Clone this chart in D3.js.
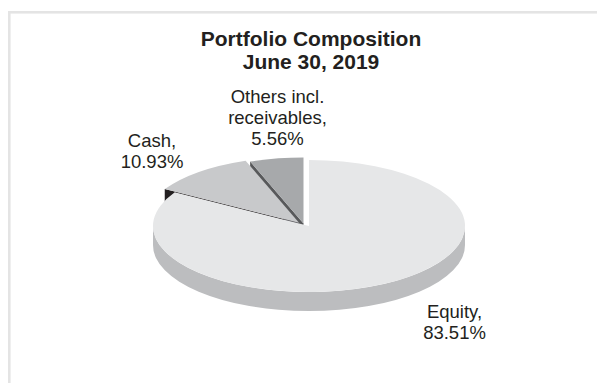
<!DOCTYPE html>
<html>
<head>
<meta charset="utf-8">
<script src="https://cdn.jsdelivr.net/npm/d3@7"></script>
<style>
  body { margin: 0; background: #ffffff; }
  svg { display: block; }
  text { font-family: "Liberation Sans", Arial, Helvetica, sans-serif; fill: #231f20; }
</style>
</head>
<body>
<svg id="chart" width="597" height="383"></svg>
<script>
// Portfolio composition data
const categories = ["Equity", "Cash", "Others incl. receivables"];
const shares = [83.51, 10.93, 5.56];
const nameLines = [["Equity,"], ["Cash,"], ["Others incl.", "receivables,"]];
const titleLines = ["Portfolio Composition", "June 30, 2019"];

// Styling per slice: top face, outer wall, radial cut face
const topColors  = ["#e6e7e8", "#c8c9cb", "#a7a9ab"];
const wallColors = ["#bcbdbf", "#b0b1b3", "#8e9093"];
const faceColors = ["#9a9b9d", "#231f20", "#58595b"];

// Geometry of the tilted pie
const rx = 156, ry = 66, depth = 19;
const base = [304, 224];
const explode = [[5, 2], [-5, -1.3], [-0.5, -0.5]];
const labelPos = [[454.5, 317.5], [152, 146.5], [277.5, 102.7]];
const lineGap = [21.5, 21.5, 21.3];

const svg = d3.select("#chart");

// Light frame along the top and left edges
svg.append("rect").attr("x", 8).attr("y", 11).attr("width", 589).attr("height", 2.6).attr("fill", "#e4e4e4");
svg.append("rect").attr("x", 8).attr("y", 11).attr("width", 2.6).attr("height", 372).attr("fill", "#e4e4e4");

// Title
const title = svg.append("text").attr("text-anchor", "middle")
  .style("font-weight", "bold").style("font-size", "21px");
titleLines.forEach((t, i) => {
  title.append("tspan").attr("x", 311).attr("y", 46 + i * 23.4).text(t);
});

const arcs = d3.pie().sort(null).value(d => d)(shares);
const fmt = d3.format(".2f");

function centerOf(i) { return [base[0] + explode[i][0], base[1] + explode[i][1]]; }
function pt(c, a, dy = 0) { return [c[0] + rx * Math.sin(a), c[1] - ry * Math.cos(a) + dy]; }

function topPath(c, a0, a1) {
  const p0 = pt(c, a0), p1 = pt(c, a1);
  const large = (a1 - a0) > Math.PI ? 1 : 0;
  return `M${c[0]},${c[1]}L${p0[0]},${p0[1]}A${rx},${ry} 0 ${large} 1 ${p1[0]},${p1[1]}Z`;
}

function wallPath(c, a0, a1) {
  const s = Math.max(a0, Math.PI / 2), e = Math.min(a1, 3 * Math.PI / 2);
  if (e <= s) return null;
  const p0 = pt(c, s), p1 = pt(c, e), q1 = pt(c, e, depth), q0 = pt(c, s, depth);
  return `M${p0[0]},${p0[1]}A${rx},${ry} 0 0 1 ${p1[0]},${p1[1]}L${q1[0]},${q1[1]}A${rx},${ry} 0 0 0 ${q0[0]},${q0[1]}Z`;
}

function facePath(c, a) {
  const p = pt(c, a);
  return `M${c[0]},${c[1]}L${p[0]},${p[1]}L${p[0]},${p[1] + depth}L${c[0]},${c[1] + depth}Z`;
}

const gWalls = svg.append("g"), gFaces = svg.append("g"), gTops = svg.append("g");

arcs.forEach((d, i) => {
  const c = centerOf(i);
  const w = wallPath(c, d.startAngle, d.endAngle);
  if (w) gWalls.append("path").attr("d", w).attr("fill", wallColors[i]);
  // radial cut faces that turn toward the viewer
  if (Math.sin(d.startAngle) < -1e-6)
    gFaces.append("path").attr("d", facePath(c, d.startAngle)).attr("fill", faceColors[i]);
  if (Math.sin(d.endAngle) > 1e-6)
    gFaces.append("path").attr("d", facePath(c, d.endAngle)).attr("fill", faceColors[i]);
  gTops.append("path").attr("d", topPath(c, d.startAngle, d.endAngle)).attr("fill", topColors[i]);
});

// Slice labels
arcs.forEach((d, i) => {
  const lines = nameLines[i].concat([fmt(d.data) + "%"]);
  const t = svg.append("text").attr("text-anchor", "middle").style("font-size", "18.5px")
    .attr("aria-label", categories[i]);
  lines.forEach((s, k) => {
    t.append("tspan").attr("x", labelPos[i][0]).attr("y", labelPos[i][1] + k * lineGap[i]).text(s);
  });
});
</script>
</body>
</html>
